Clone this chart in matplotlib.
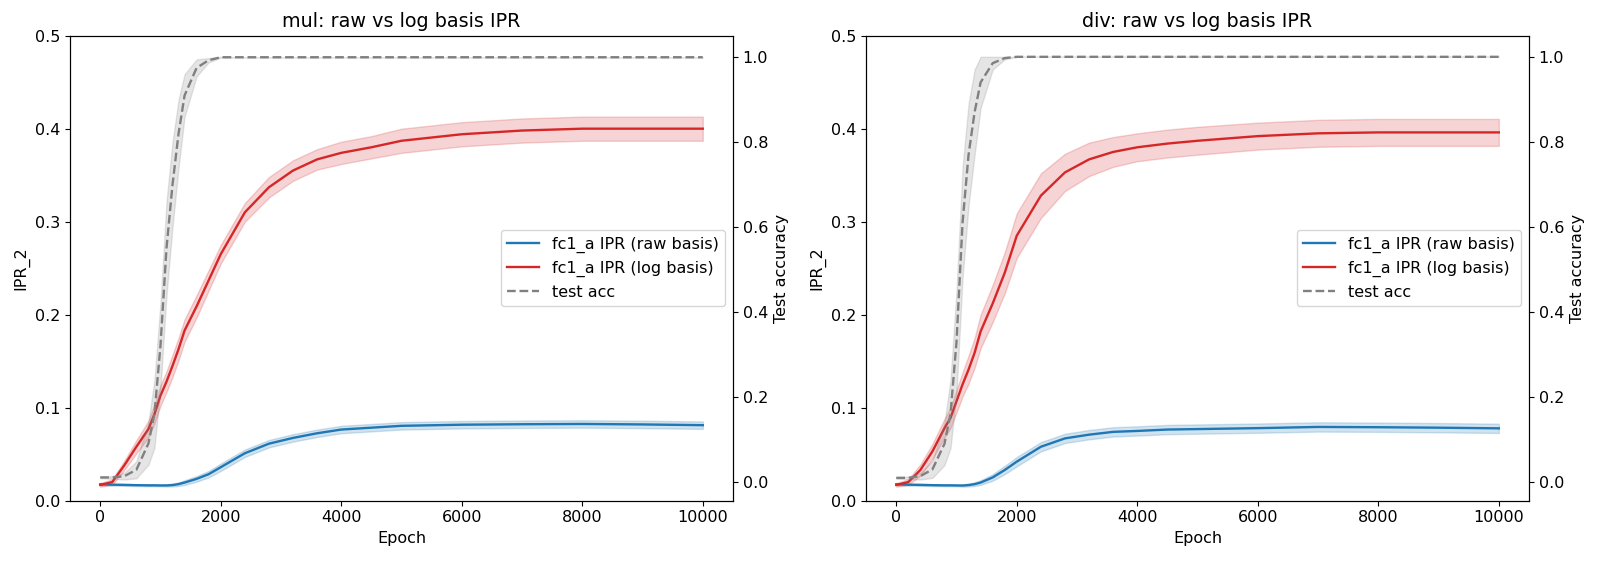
import matplotlib
matplotlib.use("Agg")
import matplotlib.pyplot as plt
import numpy as np

epochs = [0, 200, 400, 600, 800, 900, 1000, 1100, 1200, 1300, 1400, 1600, 1800,
          2000, 2400, 2800, 3200, 3600, 4000, 4500, 5000, 6000, 7000, 8000, 9000, 10000]

# mul
mul_raw = [0.0176, 0.0172, 0.0170, 0.0167, 0.0165, 0.0165, 0.0164, 0.0164, 0.0168, 0.0178,
           0.0195, 0.0235, 0.0285, 0.0360, 0.0510, 0.0613, 0.0675, 0.0725, 0.0765, 0.0785,
           0.0805, 0.0817, 0.0822, 0.0825, 0.0820, 0.0812]
mul_raw_sd = [0.001, 0.001, 0.001, 0.001, 0.001, 0.001, 0.001, 0.0012, 0.0015, 0.002,
              0.0025, 0.003, 0.0035, 0.004, 0.004, 0.004, 0.004, 0.004, 0.004, 0.004,
              0.004, 0.004, 0.004, 0.004, 0.004, 0.004]
mul_log = [0.017, 0.020, 0.038, 0.058, 0.077, 0.093, 0.113, 0.128, 0.145, 0.163,
           0.183, 0.209, 0.237, 0.265, 0.310, 0.337, 0.355, 0.367, 0.374, 0.380,
           0.387, 0.394, 0.398, 0.400, 0.400, 0.400]
mul_log_sd = [0.002, 0.003, 0.005, 0.007, 0.009, 0.010, 0.011, 0.011, 0.012, 0.012,
              0.012, 0.012, 0.011, 0.010, 0.010, 0.011, 0.011, 0.011, 0.012, 0.012,
              0.013, 0.013, 0.013, 0.013, 0.013, 0.013]
mul_acc = [0.010, 0.010, 0.013, 0.028, 0.090, 0.160, 0.320, 0.550, 0.700, 0.820,
           0.910, 0.975, 0.993, 1.0, 1.0, 1.0, 1.0, 1.0, 1.0, 1.0,
           1.0, 1.0, 1.0, 1.0, 1.0, 1.0]
mul_acc_sd = [0.002, 0.003, 0.008, 0.020, 0.050, 0.080, 0.100, 0.110, 0.100, 0.080,
              0.050, 0.020, 0.005, 0.001, 0, 0, 0, 0, 0, 0,
              0, 0, 0, 0, 0, 0]

# div
div_raw = [0.0176, 0.0172, 0.0170, 0.0167, 0.0165, 0.0165, 0.0164, 0.0163, 0.0168, 0.0178,
           0.0195, 0.0250, 0.0330, 0.0420, 0.0580, 0.0670, 0.0710, 0.0740, 0.0750, 0.0765,
           0.0770, 0.0780, 0.0793, 0.0790, 0.0785, 0.0778]
div_raw_sd = [0.001, 0.001, 0.001, 0.001, 0.001, 0.001, 0.001, 0.0012, 0.0015, 0.002,
              0.0025, 0.0035, 0.0045, 0.005, 0.005, 0.005, 0.005, 0.005, 0.005, 0.005,
              0.005, 0.005, 0.005, 0.005, 0.005, 0.005]
div_log = [0.017, 0.020, 0.033, 0.053, 0.078, 0.089, 0.107, 0.125, 0.141, 0.159,
           0.182, 0.212, 0.245, 0.285, 0.328, 0.353, 0.367, 0.375, 0.380, 0.384,
           0.387, 0.392, 0.395, 0.396, 0.396, 0.396]
div_log_sd = [0.002, 0.003, 0.006, 0.008, 0.010, 0.011, 0.012, 0.013, 0.015, 0.016,
              0.018, 0.020, 0.022, 0.024, 0.024, 0.020, 0.018, 0.016, 0.015, 0.015,
              0.015, 0.0145, 0.0145, 0.0145, 0.0145, 0.0145]
div_acc = [0.010, 0.010, 0.014, 0.030, 0.090, 0.160, 0.330, 0.610, 0.770, 0.870,
           0.940, 0.985, 0.997, 1.0, 1.0, 1.0, 1.0, 1.0, 1.0, 1.0,
           1.0, 1.0, 1.0, 1.0, 1.0, 1.0]
div_acc_sd = [0.002, 0.003, 0.008, 0.020, 0.050, 0.080, 0.120, 0.130, 0.120, 0.100,
              0.060, 0.015, 0.003, 0.0, 0, 0, 0, 0, 0, 0,
              0, 0, 0, 0, 0, 0]

panels = [
    ("mul", mul_raw, mul_raw_sd, mul_log, mul_log_sd, mul_acc, mul_acc_sd),
    ("div", div_raw, div_raw_sd, div_log, div_log_sd, div_acc, div_acc_sd),
]

plt.rcParams["font.size"] = 11.5

fig, axes = plt.subplots(1, 2, figsize=(16, 5.61), dpi=100)
fig.subplots_adjust(left=0.0438, right=0.9556, bottom=0.1075, top=0.9364, wspace=0.201)

x = np.array(epochs)
for ax, (name, raw, raw_sd, lg, lg_sd, acc, acc_sd) in zip(axes, panels):
    raw, raw_sd = np.array(raw), np.array(raw_sd)
    lg, lg_sd = np.array(lg), np.array(lg_sd)
    acc, acc_sd = np.array(acc), np.array(acc_sd)

    l1, = ax.plot(x, raw, color="tab:blue", lw=1.7, label="fc1_a IPR (raw basis)")
    ax.fill_between(x, raw - raw_sd, raw + raw_sd, color="tab:blue", alpha=0.2)
    l2, = ax.plot(x, lg, color="tab:red", lw=1.7, label="fc1_a IPR (log basis)")
    ax.fill_between(x, lg - lg_sd, lg + lg_sd, color="tab:red", alpha=0.2)
    ax.set_ylim(0, 0.5)
    ax.set_xlabel("Epoch")
    ax.set_ylabel("IPR_2")
    ax.set_title(f"{name}: raw vs log basis IPR")

    ax2 = ax.twinx()
    l3, = ax2.plot(x, acc, color="gray", ls="--", lw=1.7, label="test acc")
    ax2.fill_between(x, acc - acc_sd, acc + acc_sd, color="gray", alpha=0.2)
    ax2.set_ylabel("Test accuracy")

    ax.legend(handles=[l1, l2, l3], loc="center right")

fig.savefig("out.png")
